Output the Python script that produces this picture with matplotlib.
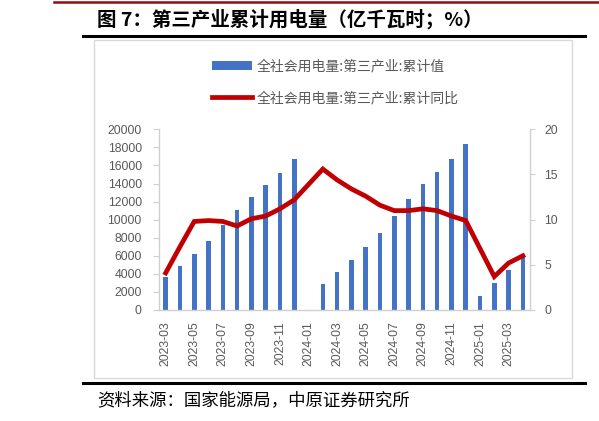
import numpy as np
import matplotlib
matplotlib.use("Agg")
import matplotlib.pyplot as plt
from matplotlib.lines import Line2D
from matplotlib.patches import Rectangle

months = ["2023-03", "2023-04", "2023-05", "2023-06", "2023-07", "2023-08", "2023-09",
          "2023-10", "2023-11", "2023-12", "2024-01", "2024-02", "2024-03", "2024-04",
          "2024-05", "2024-06", "2024-07", "2024-08", "2024-09", "2024-10", "2024-11",
          "2024-12", "2025-01", "2025-02", "2025-03", "2025-04"]
cum_value = [3700, 4850, 6150, 7620, 9390, 11080, 12520, 13780, 15140, 16690, np.nan,
             2870, 4200, 5490, 6920, 8510, 10390, 12270, 13920, 15290, 16690, 18340,
             1550, 2980, 4460, 5900]
cum_yoy = [4.1, 7.0, 9.8, 9.9, 9.8, 9.3, 10.1, 10.4, 11.2, 12.2, np.nan,
           15.6, 14.4, 13.4, 12.6, 11.6, 11.0, 11.0, 11.2, 11.0, 10.4, 9.9,
           np.nan, 3.7, 5.2, 6.0]
label_bar = "全社会用电量:第三产业:累计值"
label_line = "全社会用电量:第三产业:累计同比"
title = "图 7：第三产业累计用电量（亿千瓦时；%）"
source = "资料来源：国家能源局，中原证券研究所"

W, H = 599, 421
fig = plt.figure(figsize=(W / 100, H / 100), dpi=100)
cjk = ["Noto Sans CJK SC", "DejaVu Sans"]
num_font = "Liberation Sans"
grey = "#595959"
axis_c = "#D0D0D0"

def fx(px):
    return px / W

def fy(py):
    return 1 - py / H

# decorative frame lines
fig.add_artist(Line2D([fx(54), fx(599)], [fy(2), fy(2)], color="#8E0E12", lw=1.8))
fig.add_artist(Line2D([fx(83), fx(585)], [fy(36), fy(36)], color="black", lw=2.2))
fig.add_artist(Line2D([fx(83), fx(585)], [fy(383), fy(383)], color="black", lw=2.2))
fig.add_artist(Rectangle((fx(94), fy(378)), fx(572) - fx(94), fy(40) - fy(378),
                         fill=False, edgecolor="#D9D9D9", lw=1.0))

fig.text(fx(97), fy(19.5), title, family=cjk, fontsize=14, fontweight="bold",
         ha="left", va="center", color="black")
fig.text(fx(97), fy(400), source, family=cjk, fontsize=12.5,
         ha="left", va="center", color="black")

ax = fig.add_axes([fx(158.5), fy(310), fx(530) - fx(158.5), fy(129.3) - fy(310)])
x = np.arange(len(months))
vals = np.array(cum_value, dtype=float)
bars = ax.bar(x, vals, width=0.32, color="#4472C4", zorder=2, label=label_bar)
ax.set_xlim(-0.5, len(months) - 0.5)
ax.set_ylim(0, 20000)
ax.set_yticks(np.arange(0, 20001, 2000))
ax.set_xticks(x[::2])
ax.set_xticklabels(months[::2], rotation=90, fontfamily=num_font, fontsize=8.8, color=grey)
ax.tick_params(axis="x", length=0, pad=8)
ax.tick_params(axis="y", direction="out", length=4, width=0.8, color=axis_c, pad=8,
               labelsize=8.8, labelcolor=grey)
for lab in ax.get_yticklabels():
    lab.set_fontfamily(num_font)
for s in ["top", "right"]:
    ax.spines[s].set_visible(False)
for s in ["left", "bottom"]:
    ax.spines[s].set_color(axis_c)
    ax.spines[s].set_linewidth(1.0)

ax2 = ax.twinx()
yoy = np.array(cum_yoy, dtype=float)
ok = ~np.isnan(yoy)
line, = ax2.plot(x[ok], yoy[ok], color="#C00000", lw=3.4, solid_joinstyle="miter",
                 zorder=3, label=label_line)
ax2.set_ylim(0, 20)
ax2.set_yticks(np.arange(0, 21, 5))
ax2.tick_params(axis="y", direction="out", length=3.5, width=0.8, color=axis_c, pad=7,
                labelsize=8.8, labelcolor=grey)
for lab in ax2.get_yticklabels():
    lab.set_fontfamily(num_font)
for s in ["top", "left", "bottom"]:
    ax2.spines[s].set_visible(False)
ax2.spines["right"].set_color(axis_c)
ax2.spines["right"].set_linewidth(1.0)
ax.set_zorder(1)
ax2.set_zorder(2)

leg = fig.legend([bars, line], [label_bar, label_line], loc="upper left",
                 bbox_to_anchor=(fx(212), fy(59)), frameon=False,
                 prop={"family": cjk, "size": 10}, labelcolor=grey,
                 handlelength=2.9, handleheight=0.6, handletextpad=0.35,
                 labelspacing=1.3, borderpad=0, borderaxespad=0)

fig.savefig("out.png", dpi=100)
